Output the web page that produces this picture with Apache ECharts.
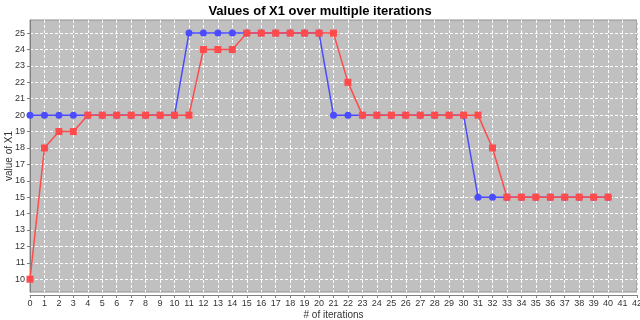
<!DOCTYPE html>
<html>
<head>
<meta charset="utf-8">
<script src="https://cdn.jsdelivr.net/npm/echarts@6/dist/echarts.min.js"></script>
<style>
  html, body { margin: 0; padding: 0; background: #fff; }
  #chart { width: 640px; height: 320px; }
</style>
</head>
<body>
<div id="chart"></div>
<script>
// iterations and the two X1 traces
const iterations = [0,1,2,3,4,5,6,7,8,9,10,11,12,13,14,15,16,17,18,19,20,
  21,22,23,24,25,26,27,28,29,30,31,32,33,34,35,36,37,38,39,40];
const blueValues = [20,20,20,20,20,20,20,20,20,20,20,25,25,25,25,25,25,25,25,25,25,
  20,20,20,20,20,20,20,20,20,20,15,15,15,15,15,15,15,15,15,15];
const redValues = [10,18,19,19,20,20,20,20,20,20,20,20,24,24,24,25,25,25,25,25,25,
  25,22,20,20,20,20,20,20,20,20,20,18,15,15,15,15,15,15,15,15];
const yTicks = [10,11,12,13,14,15,16,17,18,19,20,21,22,23,24,25];

const chart = echarts.init(document.getElementById("chart"));

const pairs = (vals) => iterations.map((x, i) => [x, vals[i]]);
const gridDash = { color: "#ffffff", width: 1, type: [3, 2] };
const font = "Liberation Sans, Arial, sans-serif";

chart.setOption({
  animation: false,
  backgroundColor: "#ffffff",
  title: {
    text: "Values of X1 over multiple iterations",
    left: "center",
    top: 0,
    textStyle: { fontFamily: font, fontSize: 13, fontWeight: "bold", color: "#000" }
  },
  grid: {
    left: 30, right: 3, top: 20, bottom: 28,
    outerBoundsMode: "none",
    show: true,
    backgroundColor: "#c0c0c0",
    borderColor: "#909090",
    borderWidth: 1
  },
  xAxis: {
    type: "value",
    min: 0,
    max: 42,
    interval: 1,
    offset: 3,
    name: "# of iterations",
    nameLocation: "middle",
    nameMoveOverlap: false,
    nameGap: 15,
    nameTextStyle: { fontFamily: font, fontSize: 10, color: "#333" },
    axisLine: { onZero: false, lineStyle: { color: "#808080" } },
    axisTick: { length: 3, lineStyle: { color: "#808080" } },
    axisLabel: { fontFamily: font, fontSize: 9, color: "#333", margin: 4 },
    splitLine: { show: true, lineStyle: gridDash }
  },
  yAxis: {
    type: "value",
    min: 9.22,
    max: 25.8,
    splitNumber: 16,
    minInterval: 1,
    maxInterval: 1,
    offset: 3,
    name: "value of X1",
    nameLocation: "middle",
    nameMoveOverlap: false,
    nameGap: 13,
    nameTextStyle: { fontFamily: font, fontSize: 10, color: "#333" },
    axisLine: { show: true, lineStyle: { color: "#808080" } },
    axisTick: { length: 3, customValues: yTicks, lineStyle: { color: "#808080" } },
    axisLabel: { fontFamily: font, fontSize: 9, color: "#333", margin: 2, customValues: yTicks },
    splitLine: { show: true, lineStyle: gridDash }
  },
  series: [
    {
      name: "blue",
      type: "line",
      data: pairs(blueValues),
      symbol: "circle",
      symbolSize: 7,
      color: "#4b4bff",
      lineStyle: { width: 1.5, color: "#4b4bff" },
      itemStyle: { color: "#4b4bff" },
      z: 2
    },
    {
      name: "red",
      type: "line",
      data: pairs(redValues),
      symbol: "rect",
      symbolSize: 7,
      color: "#ff4b4b",
      lineStyle: { width: 1.5, color: "#ff4b4b" },
      itemStyle: { color: "#ff4b4b" },
      z: 3
    }
  ]
});
</script>
</body>
</html>
